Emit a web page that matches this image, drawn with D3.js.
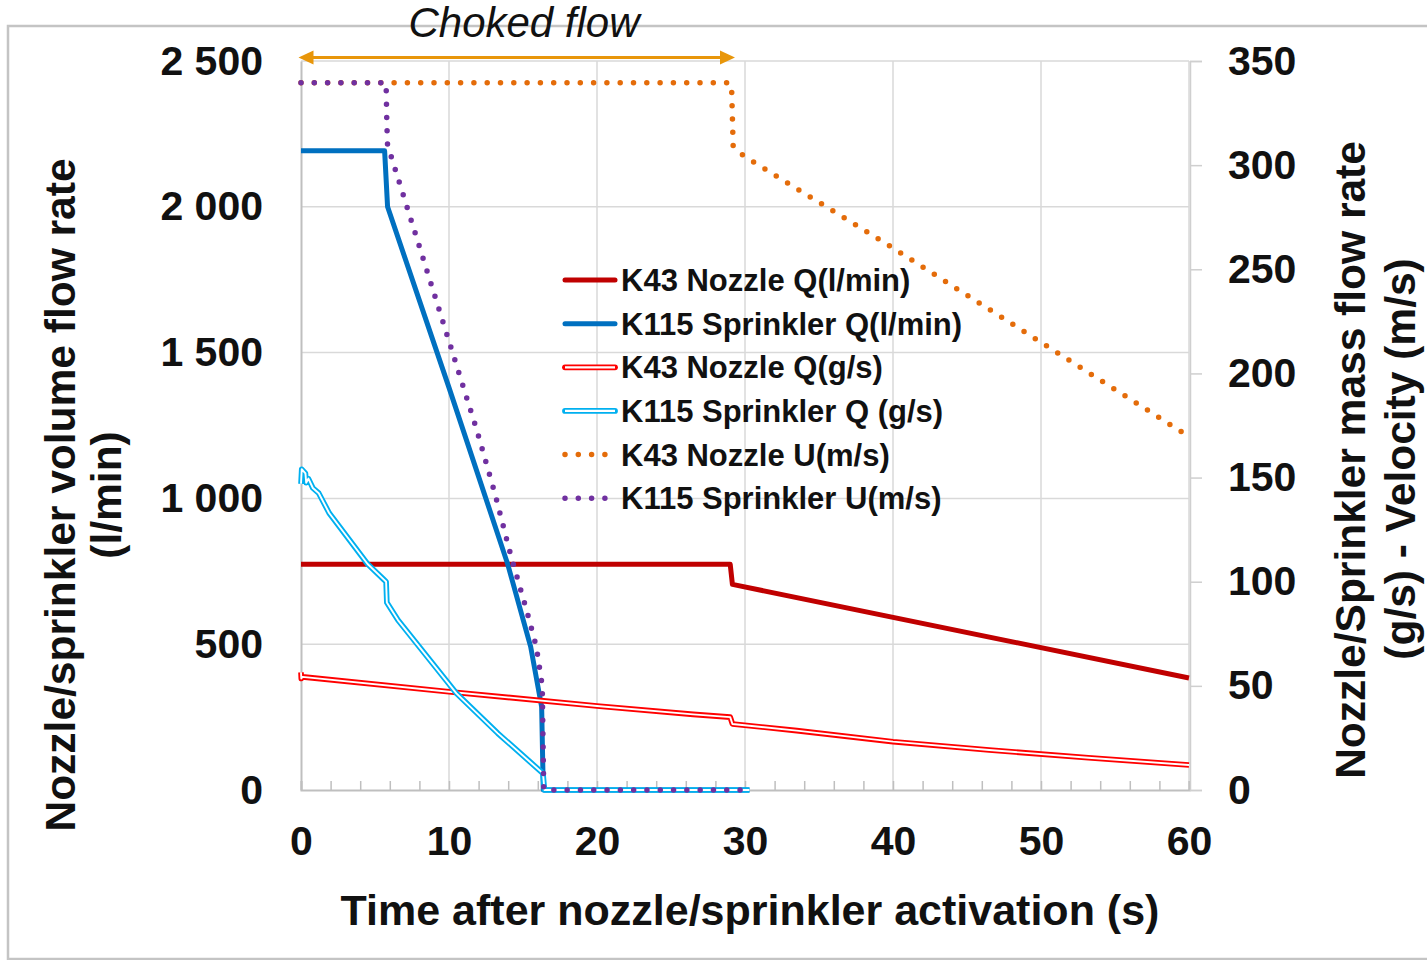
<!DOCTYPE html>
<html><head><meta charset="utf-8">
<script src="https://cdn.jsdelivr.net/npm/d3@7"></script>
<style>
html,body{margin:0;padding:0;background:#fff;}
svg{display:block;font-family:"Liberation Sans",Arial,sans-serif;}
</style></head>
<body>
<svg id="chart" width="1427" height="960"></svg>
<script>
// ---------- DATA ----------
const xTicks = [0,10,20,30,40,50,60];
const leftTicks = [0,500,1000,1500,2000,2500];
const rightTicks = [0,50,100,150,200,250,300,350];

// time (s) / value pairs
const k43QlminT = [0, 29.0, 29.15, 60];
const k43QlminV = [774, 774, 705, 384];

const k115QlminT = [0, 5.65, 5.85, 10, 13.97, 15.52, 16.26, 16.37, 30.3];
const k115QlminV = [2192, 2192, 2000, 1380, 774, 491, 285, 0, 0];

const k43QgsT = [0, 0.02, 0.1, 10, 20, 26.5, 29.0, 29.15, 33.5, 40, 46.5, 53.2, 60];
const k43QgsV = [56.5, 53.5, 54.3, 47.2, 40.3, 36.3, 35.0, 31.7, 28.5, 23.2, 19.2, 15.5, 12.0];

const k115QgsT = [0, 0.05, 0.3, 0.35, 0.5, 0.8, 1.2, 1.9, 4.5, 5.6, 5.75, 5.8, 6.55, 10.5, 13.3, 15.46, 16.35, 16.45, 30.3];
const k115QgsV = [147, 154, 152, 147.5, 149.5, 145, 142.5, 133, 108.5, 101, 100, 90, 81.6, 46.4, 27.2, 13.6, 8, 0, 0];

const k43UT = [0, 29.0, 29.1, 29.2, 29.9, 39.6, 59.6];
const k43UV = [339.5, 339.5, 336, 309, 304.5, 262, 171.5];

const k115UT = [0, 5.75, 5.8, 5.85, 6.08, 11.87, 13.1, 14.2, 15.24, 15.9, 16.3, 16.4, 30.3];
const k115UV = [339.5, 339.5, 320, 309, 304.5, 173, 142.4, 112, 86.4, 68.8, 50, 0, 0];

const seriesNames = ["K43 Nozzle Q(l/min)","K115 Sprinkler Q(l/min)","K43 Nozzle Q(g/s)","K115 Sprinkler Q (g/s)","K43 Nozzle U(m/s)","K115 Sprinkler U(m/s)"];

// ---------- SETUP ----------
const svg = d3.select("#chart");
const x = d3.scaleLinear().domain([0,60]).range([301,1189]);
const yL = d3.scaleLinear().domain([0,2500]).range([790,61]);
const yR = d3.scaleLinear().domain([0,350]).range([790,61]);
const fmt = d3.formatLocale({decimal:".",thousands:" ",grouping:[3],currency:["",""]}).format(",d");

const zip = (t,v) => t.map((d,i)=>[d,v[i]]);

// outer frame
svg.append("rect").attr("x",8).attr("y",26).attr("width",1440).attr("height",933)
  .attr("fill","none").attr("stroke","#c4c4c4").attr("stroke-width",2.5);

// gridlines
const grid = svg.append("g");
grid.selectAll(".hg").data(leftTicks.filter(d=>d>0)).join("line")
  .attr("x1",x(0)).attr("x2",x(60)).attr("y1",d=>yL(d)).attr("y2",d=>yL(d))
  .attr("stroke","#d9d9d9").attr("stroke-width",1.5);
grid.selectAll(".vg").data(xTicks.filter(d=>d>0)).join("line")
  .attr("x1",d=>x(d)).attr("x2",d=>x(d)).attr("y1",yL(0)).attr("y2",yL(2500))
  .attr("stroke","#d9d9d9").attr("stroke-width",1.5);

// axes
const tickFont = "41px";
const gx = svg.append("g").attr("transform",`translate(0,${yL(0)})`)
  .call(d3.axisBottom(x).tickValues(d3.range(0,61,2)).tickSize(-9).tickFormat(d=>xTicks.includes(d)?d:""));
gx.select(".domain").attr("stroke","#bfbfbf").attr("stroke-width",2);
gx.selectAll(".tick line").attr("stroke","#bfbfbf").attr("stroke-width",1.5);
gx.selectAll("text").attr("font-size",tickFont).attr("font-weight","bold").attr("fill","#111").attr("dy","0.71em").attr("y",36);

const gl = svg.append("g").attr("transform",`translate(${x(0)},0)`)
  .call(d3.axisLeft(yL).tickValues(leftTicks).tickSize(0).tickPadding(38).tickFormat(fmt));
gl.select(".domain").attr("stroke","#bfbfbf").attr("stroke-width",2);
gl.selectAll("text").attr("font-size",tickFont).attr("font-weight","bold").attr("fill","#111");

const gr = svg.append("g").attr("transform",`translate(${x(60)+1},0)`)
  .call(d3.axisRight(yR).tickValues(rightTicks).tickSize(12).tickPadding(26));
gr.select(".domain").attr("stroke","#cfcfcf").attr("stroke-width",1.5);
gr.selectAll(".tick line").attr("stroke","#cfcfcf").attr("stroke-width",1.5);
gr.selectAll("text").attr("font-size",tickFont).attr("font-weight","bold").attr("fill","#111");

// lines
const lineL = d3.line().x(d=>x(d[0])).y(d=>yL(d[1]));
const lineR = d3.line().x(d=>x(d[0])).y(d=>yR(d[1]));
const plot = svg.append("g");

function solid(path, color, w){
  plot.append("path").attr("d",path).attr("fill","none").attr("stroke",color)
    .attr("stroke-width",w).attr("stroke-linejoin","round");
}
function dbl(path, color){
  plot.append("path").attr("d",path).attr("fill","none").attr("stroke",color)
    .attr("stroke-width",5.6).attr("stroke-linejoin","round");
  plot.append("path").attr("d",path).attr("fill","none").attr("stroke","#fff")
    .attr("stroke-width",1.9).attr("stroke-linejoin","round");
}
function dots(path, color){
  plot.append("path").attr("d",path).attr("fill","none").attr("stroke",color)
    .attr("stroke-width",5.5).attr("stroke-linecap","round").attr("stroke-dasharray","0 13.3");
}

solid(lineL(zip(k43QlminT,k43QlminV)), "#c00000", 5);
solid(lineL(zip(k115QlminT,k115QlminV)), "#0070c0", 5);
dbl(lineR(zip(k43QgsT,k43QgsV)), "#ff0000");
dbl(lineR(zip(k115QgsT,k115QgsV)), "#00b0f0");
dots(lineR(zip(k43UT,k43UV)), "#e46c0a");
dots(lineR(zip(k115UT,k115UV)), "#7030a0");

// legend
const legY0 = 280, legDy = 43.65, lx0 = 565, lx1 = 615, ltx = 621;
const styles = [
  {t:"solid",c:"#c00000"},{t:"solid",c:"#0070c0"},{t:"dbl",c:"#ff0000"},
  {t:"dbl",c:"#00b0f0"},{t:"dots",c:"#e46c0a"},{t:"dots",c:"#7030a0"}];
const leg = svg.append("g");
seriesNames.forEach((name,i)=>{
  const yy = legY0 + i*legDy;
  const s = styles[i];
  const p = `M${lx0},${yy}L${lx1},${yy}`;
  if(s.t==="solid"){
    leg.append("path").attr("d",p).attr("stroke",s.c).attr("stroke-width",5).attr("stroke-linecap","round");
  } else if(s.t==="dbl"){
    leg.append("path").attr("d",p).attr("stroke",s.c).attr("stroke-width",5.8).attr("stroke-linecap","round");
    leg.append("path").attr("d",p).attr("stroke","#fff").attr("stroke-width",2.2);
  } else {
    leg.append("path").attr("d",`M${lx0},${yy}L${lx0+42},${yy}`).attr("stroke",s.c).attr("stroke-width",5.5)
      .attr("stroke-linecap","round").attr("stroke-dasharray","0 13.3");
  }
  leg.append("text").attr("x",ltx).attr("y",yy).attr("dy","0.36em")
    .attr("font-size","31px").attr("font-weight","bold").attr("fill","#111").text(name);
});

// choked flow annotation
const arrowC = "#e8960a";
const ay = 57.5, ax0 = 298.5, ax1 = 735;
svg.append("line").attr("x1",ax0+10).attr("x2",ax1-10).attr("y1",ay).attr("y2",ay)
  .attr("stroke",arrowC).attr("stroke-width",3);
svg.append("path").attr("d",`M${ax0},${ay}L${ax0+15},${ay-7}L${ax0+15},${ay+7}Z`).attr("fill",arrowC);
svg.append("path").attr("d",`M${ax1},${ay}L${ax1-15},${ay-7}L${ax1-15},${ay+7}Z`).attr("fill",arrowC);
svg.append("text").attr("x",524).attr("y",37).attr("text-anchor","middle")
  .attr("font-size","42px").attr("font-style","italic").attr("fill","#111").text("Choked flow");

// axis titles
const titleFs = "42.5px";
svg.append("text").attr("x",750).attr("y",910).attr("text-anchor","middle").attr("dominant-baseline","central")
  .attr("font-size","43px").attr("font-weight","bold").attr("fill","#111")
  .text("Time after nozzle/sprinkler activation (s)");
svg.append("text").attr("transform","translate(60,495) rotate(-90)").attr("text-anchor","middle").attr("dominant-baseline","central")
  .attr("font-size",titleFs).attr("font-weight","bold").attr("fill","#111").text("Nozzle/sprinkler volume flow rate");
svg.append("text").attr("transform","translate(106,495) rotate(-90)").attr("text-anchor","middle").attr("dominant-baseline","central")
  .attr("font-size",titleFs).attr("font-weight","bold").attr("fill","#111").text("(l/min)");
svg.append("text").attr("transform","translate(1350,460) rotate(-90)").attr("text-anchor","middle").attr("dominant-baseline","central")
  .attr("font-size",titleFs).attr("font-weight","bold").attr("fill","#111").text("Nozzle/Sprinkler mass flow rate");
svg.append("text").attr("transform","translate(1400,459) rotate(-90)").attr("text-anchor","middle").attr("dominant-baseline","central")
  .attr("font-size",titleFs).attr("font-weight","bold").attr("fill","#111").text("(g/s) - Velocity (m/s)");
</script>
</body></html>
